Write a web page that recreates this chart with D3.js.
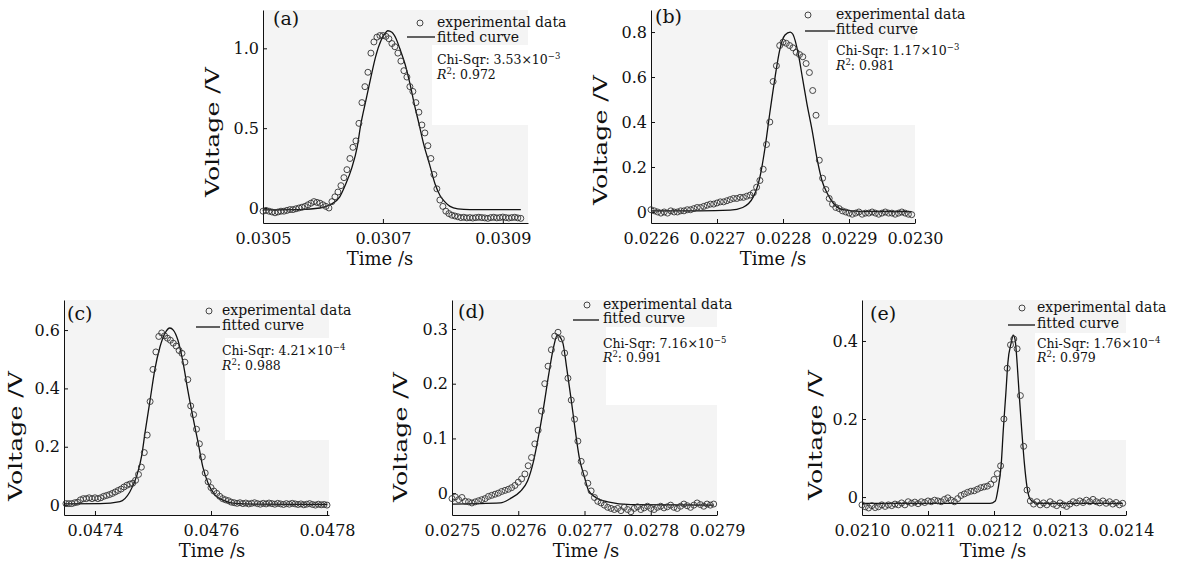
<!DOCTYPE html>
<html>
<head>
<meta charset="utf-8">
<script src="https://cdn.jsdelivr.net/npm/d3@7"></script>
<style>
  body { margin: 0; background: #fff; }
  svg text { font-family: "DejaVu Serif", serif; fill: #111; }
</style>
</head>
<body>
<div class="container"></div>
<script>
// ---- data ----
var panelNames = ["(a)", "(b)", "(c)", "(d)", "(e)"];
var chiMantissa = ["3.53", "1.17", "4.21", "7.16", "1.76"];
var chiExponent = ["\u22123", "\u22123", "\u22124", "\u22125", "\u22124"];
var rSquared = ["0.972", "0.981", "0.988", "0.991", "0.979"];

var xTicksA = [0.0305, 0.0307, 0.0309];
var yTicksA = [0, 0.5, 1.0];
var xTicksB = [0.0226, 0.0227, 0.0228, 0.0229, 0.0230];
var yTicksB = [0, 0.2, 0.4, 0.6, 0.8];
var xTicksC = [0.0474, 0.0476, 0.0478];
var yTicksC = [0, 0.2, 0.4, 0.6];
var xTicksD = [0.0275, 0.0276, 0.0277, 0.0278, 0.0279];
var yTicksD = [0, 0.1, 0.2, 0.3];
var xTicksE = [0.0210, 0.0211, 0.0212, 0.0213, 0.0214];
var yTicksE = [0, 0.2, 0.4];

var expA = [[0.030500,-0.02],[0.030505,-0.015],[0.030510,-0.02],[0.030515,-0.025],[0.030520,-0.03],[0.030525,-0.025],[0.030530,-0.02],[0.030535,-0.02],[0.030540,-0.015],[0.030545,-0.01],[0.030550,-0.01],[0.030555,-0.005],[0.030560,0.0],[0.030565,0.005],[0.030570,0.01],[0.030575,0.02],[0.030580,0.03],[0.030585,0.04],[0.030590,0.035],[0.030595,0.03],[0.030600,0.02],[0.030605,0.01],[0.030610,0.0],[0.030615,0.04],[0.030620,0.07],[0.030625,0.10],[0.030630,0.14],[0.030635,0.19],[0.030640,0.24],[0.030645,0.31],[0.030650,0.38],[0.030655,0.42],[0.030660,0.53],[0.030665,0.66],[0.030670,0.76],[0.030675,0.85],[0.030680,0.97],[0.030685,1.04],[0.030690,1.07],[0.030695,1.08],[0.030700,1.08],[0.030705,1.075],[0.030710,1.06],[0.030715,1.03],[0.030720,1.01],[0.030725,0.97],[0.030730,0.92],[0.030735,0.86],[0.030740,0.82],[0.030745,0.76],[0.030750,0.73],[0.030755,0.66],[0.030760,0.60],[0.030765,0.52],[0.030770,0.47],[0.030775,0.39],[0.030780,0.31],[0.030785,0.21],[0.030790,0.12],[0.030795,0.05],[0.030800,0.01],[0.030805,-0.02],[0.030810,-0.035],[0.030815,-0.045],[0.030820,-0.05],[0.030825,-0.055],[0.030830,-0.06],[0.030835,-0.058],[0.030840,-0.062],[0.030845,-0.06],[0.030850,-0.063],[0.030855,-0.06],[0.030860,-0.058],[0.030865,-0.06],[0.030870,-0.062],[0.030875,-0.065],[0.030880,-0.06],[0.030885,-0.058],[0.030890,-0.062],[0.030895,-0.06],[0.030900,-0.057],[0.030905,-0.06],[0.030910,-0.063],[0.030915,-0.06],[0.030920,-0.058],[0.030925,-0.062],[0.030930,-0.065]];
var fitA = [[0.030500,-0.012],[0.030562,-0.01],[0.030595,0.0],[0.030612,0.02],[0.030628,0.07],[0.030638,0.15],[0.030648,0.25],[0.030657,0.38],[0.030663,0.52],[0.030672,0.68],[0.030680,0.82],[0.030688,0.95],[0.030697,1.05],[0.030703,1.09],[0.030708,1.11],[0.030715,1.10],[0.030722,1.06],[0.030728,1.00],[0.030737,0.90],[0.030745,0.78],[0.030753,0.64],[0.030760,0.53],[0.030768,0.40],[0.030778,0.27],[0.030787,0.15],[0.030795,0.08],[0.030803,0.04],[0.030812,0.01],[0.030825,-0.005],[0.030845,-0.01],[0.030930,-0.01]];

var expB = [[0.022600,0.01],[0.022605,0.005],[0.022610,0.0],[0.022615,-0.005],[0.022620,0.0],[0.022625,-0.005],[0.022630,0.005],[0.022635,0.0],[0.022640,0.0],[0.022645,0.005],[0.022650,0.005],[0.022655,0.01],[0.022660,0.01],[0.022665,0.015],[0.022670,0.02],[0.022675,0.02],[0.022680,0.025],[0.022685,0.03],[0.022690,0.035],[0.022695,0.035],[0.022700,0.04],[0.022705,0.045],[0.022710,0.045],[0.022715,0.05],[0.022720,0.055],[0.022725,0.06],[0.022730,0.06],[0.022735,0.065],[0.022740,0.065],[0.022745,0.07],[0.022750,0.075],[0.022755,0.085],[0.022760,0.11],[0.022765,0.14],[0.022770,0.19],[0.022775,0.30],[0.022780,0.40],[0.022785,0.58],[0.022790,0.65],[0.022795,0.74],[0.022800,0.755],[0.022805,0.75],[0.022810,0.74],[0.022815,0.73],[0.022820,0.71],[0.022825,0.70],[0.022830,0.69],[0.022835,0.66],[0.022840,0.62],[0.022845,0.54],[0.022850,0.43],[0.022855,0.23],[0.022860,0.15],[0.022865,0.10],[0.022870,0.06],[0.022875,0.035],[0.022880,0.02],[0.022885,0.015],[0.022890,0.005],[0.022895,0.0],[0.022900,-0.005],[0.022905,-0.01],[0.022910,-0.005],[0.022915,0.0],[0.022920,-0.01],[0.022925,-0.005],[0.022930,-0.005],[0.022935,0.0],[0.022940,-0.005],[0.022945,-0.01],[0.022950,-0.005],[0.022955,0.0],[0.022960,-0.005],[0.022965,-0.005],[0.022970,-0.01],[0.022975,-0.005],[0.022980,0.0],[0.022985,-0.005],[0.022990,-0.01],[0.022995,-0.012]];
var fitB = [[0.022600,0.005],[0.022674,0.005],[0.022720,0.008],[0.022739,0.02],[0.022755,0.067],[0.022765,0.155],[0.022773,0.29],[0.022780,0.44],[0.022788,0.60],[0.022795,0.72],[0.022803,0.787],[0.022811,0.80],[0.022815,0.79],[0.022823,0.705],[0.022830,0.587],[0.022836,0.485],[0.022844,0.365],[0.022852,0.23],[0.022859,0.14],[0.022867,0.083],[0.022876,0.04],[0.022891,0.01],[0.022917,0.003],[0.022995,0.002]];

var expC = [[0.047350,0.005],[0.047355,0.005],[0.047360,0.005],[0.047365,0.008],[0.047370,0.01],[0.047375,0.018],[0.047380,0.022],[0.047385,0.022],[0.047390,0.025],[0.047395,0.022],[0.047400,0.025],[0.047405,0.022],[0.047410,0.025],[0.047415,0.03],[0.047420,0.033],[0.047425,0.036],[0.047430,0.04],[0.047435,0.045],[0.047440,0.05],[0.047445,0.055],[0.047450,0.062],[0.047455,0.068],[0.047460,0.072],[0.047465,0.075],[0.047470,0.085],[0.047475,0.105],[0.047480,0.13],[0.047485,0.18],[0.047490,0.24],[0.047495,0.355],[0.047500,0.465],[0.047505,0.525],[0.047510,0.578],[0.047515,0.59],[0.047520,0.58],[0.047525,0.572],[0.047530,0.565],[0.047535,0.555],[0.047540,0.545],[0.047545,0.53],[0.047550,0.52],[0.047555,0.49],[0.047560,0.43],[0.047565,0.34],[0.047570,0.31],[0.047575,0.26],[0.047580,0.21],[0.047585,0.165],[0.047590,0.11],[0.047595,0.08],[0.047600,0.06],[0.047605,0.048],[0.047610,0.04],[0.047615,0.03],[0.047620,0.022],[0.047625,0.018],[0.047630,0.015],[0.047635,0.01],[0.047640,0.008],[0.047645,0.006],[0.047650,0.008],[0.047655,0.005],[0.047660,0.007],[0.047665,0.004],[0.047670,0.006],[0.047675,0.008],[0.047680,0.005],[0.047685,0.003],[0.047690,0.006],[0.047695,0.004],[0.047700,0.007],[0.047705,0.005],[0.047710,0.003],[0.047715,0.006],[0.047720,0.004],[0.047725,0.002],[0.047730,0.005],[0.047735,0.003],[0.047740,0.006],[0.047745,0.004],[0.047750,0.002],[0.047755,0.004],[0.047760,0.001],[0.047765,0.003],[0.047770,0.005],[0.047775,0.002],[0.047780,0.0],[0.047785,0.003],[0.047790,0.001],[0.047795,0.002],[0.047800,0.0]];
var fitC = [[0.047347,0.004],[0.047409,0.005],[0.047443,0.012],[0.047460,0.045],[0.047472,0.10],[0.047481,0.175],[0.047486,0.245],[0.047495,0.36],[0.047503,0.463],[0.047512,0.542],[0.047521,0.59],[0.047529,0.607],[0.047535,0.60],[0.047543,0.565],[0.047552,0.487],[0.047560,0.394],[0.047569,0.30],[0.047578,0.212],[0.047586,0.13],[0.047595,0.075],[0.047607,0.034],[0.047621,0.017],[0.047638,0.007],[0.047685,0.003],[0.047800,0.002]];

var expD = [[0.027500,-0.01],[0.027505,-0.007],[0.027510,-0.012],[0.027515,-0.008],[0.027520,-0.015],[0.027525,-0.016],[0.027530,-0.018],[0.027535,-0.016],[0.027540,-0.014],[0.027545,-0.012],[0.027550,-0.01],[0.027555,-0.006],[0.027560,-0.004],[0.027565,-0.002],[0.027570,0.0],[0.027575,0.003],[0.027580,0.005],[0.027585,0.007],[0.027590,0.01],[0.027595,0.014],[0.027600,0.02],[0.027605,0.026],[0.027610,0.035],[0.027615,0.05],[0.027620,0.065],[0.027625,0.09],[0.027630,0.115],[0.027635,0.15],[0.027640,0.20],[0.027645,0.232],[0.027650,0.262],[0.027655,0.287],[0.027660,0.294],[0.027665,0.282],[0.027670,0.256],[0.027675,0.21],[0.027680,0.17],[0.027685,0.135],[0.027690,0.095],[0.027695,0.058],[0.027700,0.036],[0.027705,0.018],[0.027710,0.004],[0.027715,-0.008],[0.027720,-0.015],[0.027725,-0.018],[0.027730,-0.022],[0.027735,-0.026],[0.027740,-0.028],[0.027745,-0.03],[0.027750,-0.028],[0.027755,-0.032],[0.027760,-0.026],[0.027765,-0.03],[0.027770,-0.034],[0.027775,-0.028],[0.027780,-0.025],[0.027785,-0.03],[0.027790,-0.027],[0.027795,-0.024],[0.027800,-0.028],[0.027805,-0.03],[0.027810,-0.026],[0.027815,-0.024],[0.027820,-0.027],[0.027825,-0.025],[0.027830,-0.022],[0.027835,-0.026],[0.027840,-0.028],[0.027845,-0.024],[0.027850,-0.02],[0.027855,-0.023],[0.027860,-0.026],[0.027865,-0.022],[0.027870,-0.018],[0.027875,-0.021],[0.027880,-0.024],[0.027885,-0.02],[0.027890,-0.022],[0.027895,-0.02]];
var fitD = [[0.027500,-0.02],[0.027573,-0.018],[0.027588,-0.01],[0.027603,0.003],[0.027614,0.022],[0.027623,0.058],[0.027630,0.10],[0.027638,0.155],[0.027646,0.217],[0.027653,0.265],[0.027659,0.289],[0.027667,0.276],[0.027673,0.23],[0.027680,0.17],[0.027686,0.115],[0.027692,0.066],[0.027700,0.029],[0.027706,0.005],[0.027717,-0.008],[0.027735,-0.016],[0.027770,-0.021],[0.027895,-0.022]];

var expE = [[0.021000,-0.02],[0.021005,-0.025],[0.021010,-0.028],[0.021015,-0.022],[0.021020,-0.027],[0.021025,-0.025],[0.021030,-0.02],[0.021035,-0.024],[0.021040,-0.02],[0.021045,-0.022],[0.021050,-0.018],[0.021055,-0.02],[0.021060,-0.015],[0.021065,-0.02],[0.021070,-0.012],[0.021075,-0.016],[0.021080,-0.013],[0.021085,-0.017],[0.021090,-0.012],[0.021095,-0.014],[0.021100,-0.01],[0.021105,-0.012],[0.021110,-0.008],[0.021115,-0.01],[0.021120,-0.012],[0.021125,-0.006],[0.021130,-0.002],[0.021135,-0.008],[0.021140,-0.012],[0.021145,-0.004],[0.021150,0.004],[0.021155,0.008],[0.021160,0.012],[0.021165,0.015],[0.021170,0.016],[0.021175,0.02],[0.021180,0.024],[0.021185,0.026],[0.021190,0.028],[0.021195,0.033],[0.021200,0.045],[0.021205,0.06],[0.021210,0.08],[0.021215,0.20],[0.021220,0.33],[0.021225,0.39],[0.021230,0.405],[0.021235,0.38],[0.021240,0.26],[0.021245,0.13],[0.021250,0.018],[0.021255,-0.01],[0.021260,-0.018],[0.021265,-0.012],[0.021270,-0.02],[0.021275,-0.015],[0.021280,-0.02],[0.021285,-0.012],[0.021290,-0.018],[0.021295,-0.022],[0.021300,-0.015],[0.021305,-0.02],[0.021310,-0.024],[0.021315,-0.018],[0.021320,-0.012],[0.021325,-0.015],[0.021330,-0.01],[0.021335,-0.014],[0.021340,-0.008],[0.021345,-0.012],[0.021350,-0.006],[0.021355,-0.012],[0.021360,-0.015],[0.021365,-0.01],[0.021370,-0.016],[0.021375,-0.012],[0.021380,-0.018],[0.021385,-0.014],[0.021390,-0.02],[0.021395,-0.016]];
var fitE = [[0.021000,-0.016],[0.021194,-0.016],[0.021202,-0.01],[0.021206,0.02],[0.021211,0.085],[0.021214,0.17],[0.021218,0.267],[0.021221,0.344],[0.021226,0.395],[0.021229,0.415],[0.021232,0.403],[0.021235,0.344],[0.021238,0.267],[0.021242,0.172],[0.021246,0.087],[0.021250,0.026],[0.021255,-0.006],[0.021265,-0.016],[0.021395,-0.016]];

var expSets = [expA, expB, expC, expD, expE];
var fitSets = [fitA, fitB, fitC, fitD, fitE];
var xTickSets = [xTicksA, xTicksB, xTicksC, xTicksD, xTicksE];
var yTickSets = [yTicksA, yTicksB, yTicksC, yTicksD, yTicksE];

// ---- layout (pixel positions and axis extents) ----
var layout = [
  { box: [263, 10, 528, 223], xd: [0.0305, 0.030942], yd: [-0.094, 1.24], label: [273, 25], xTitle: [380, 265], yTitle: [219, 132],
    mark: 420, line: [407, 435], tx: 437, rows: [27, 42, 37, 64, 79], white: [432, 45, 98, 80] },
  { box: [651, 10, 915, 223], xd: [0.0226, 0.0230], yd: [-0.049, 0.898], label: [655, 23], xTitle: [773, 265], yTitle: [607, 140],
    mark: 808, line: [805, 835], tx: 836, rows: [19, 34, 31, 55, 70], white: [828, 40, 122, 85] },
  { box: [64, 300, 329, 515], xd: [0.0473466, 0.0478034], yd: [-0.034, 0.703], label: [67, 320], xTitle: [212, 557], yTitle: [22, 436],
    mark: 209, line: [196, 220], tx: 222, rows: [315, 330, 327, 355, 370], white: [225, 338, 108, 102] },
  { box: [452, 300, 717, 515], xd: [0.0275, 0.0279], yd: [-0.040, 0.353], label: [458, 318], xTitle: [586, 557], yTitle: [407, 437],
    mark: 587, line: [573, 599], tx: 603, rows: [309, 323, 320, 348, 362], white: [606, 327, 137, 78] },
  { box: [862, 300, 1126, 515], xd: [0.0210, 0.0214], yd: [-0.046, 0.505], label: [870, 320], xTitle: [993, 557], yTitle: [822, 435],
    mark: 1022, line: [1008, 1035], tx: 1037, rows: [312, 328, 325, 348, 362], white: [1035, 333, 147, 107] }
];

var svg = d3.select(".container").append("svg")
    .attr("width", 1182)
    .attr("height", 565);

var yFormat = function (d) { return d === 0 ? "0" : d3.format(".1f")(d); };

layout.forEach(function (L, i) {
    var left = L.box[0], top = L.box[1], right = L.box[2], bottom = L.box[3];
    var x = d3.scaleLinear().domain(L.xd).range([left, right]);
    var y = d3.scaleLinear().domain(L.yd).range([bottom, top]);
    var g = svg.append("g");

    g.append("rect")
        .attr("x", left).attr("y", top)
        .attr("width", right - left).attr("height", bottom - top)
        .attr("fill", "#f4f4f4");
    g.append("rect")
        .attr("x", L.white[0]).attr("y", L.white[1])
        .attr("width", L.white[2]).attr("height", L.white[3])
        .attr("fill", "#fff");

    var xAxis = g.append("g")
        .attr("transform", "translate(0," + bottom + ")")
        .call(d3.axisBottom(x).tickValues(xTickSets[i]).tickSizeInner(-4).tickSizeOuter(0)
            .tickPadding(10).tickFormat(d3.format(".4f")));
    var yAxis = g.append("g")
        .attr("transform", "translate(" + left + ",0)")
        .call(d3.axisLeft(y).tickValues(yTickSets[i]).tickSizeInner(-4).tickSizeOuter(0)
            .tickPadding(4).tickFormat(yFormat));
    [xAxis, yAxis].forEach(function (ax) {
        ax.attr("font-family", "DejaVu Serif").attr("font-size", 16);
        ax.selectAll("path, line").attr("stroke", "#111").attr("stroke-width", 1);
    });

    // fitted curve
    g.append("path")
        .datum(fitSets[i])
        .attr("fill", "none")
        .attr("stroke", "#111")
        .attr("stroke-width", 1.3)
        .attr("d", d3.line()
            .x(function (d) { return x(d[0]); })
            .y(function (d) { return y(d[1]); })
            .curve(d3.curveMonotoneX));

    // experimental points
    g.selectAll("circle.pt")
        .data(expSets[i])
        .enter().append("circle")
        .attr("class", "pt")
        .attr("cx", function (d) { return x(d[0]); })
        .attr("cy", function (d) { return y(d[1]); })
        .attr("r", 3)
        .attr("fill", "none")
        .attr("stroke", "#333")
        .attr("stroke-width", 0.9);

    // titles
    g.append("text")
        .attr("x", L.xTitle[0]).attr("y", L.xTitle[1])
        .attr("text-anchor", "middle")
        .attr("font-size", 18)
        .text("Time /s");
    g.append("text")
        .attr("transform", "translate(" + L.yTitle[0] + "," + L.yTitle[1] + ") rotate(-90)")
        .attr("text-anchor", "middle")
        .attr("font-size", 18)
        .attr("textLength", 130)
        .attr("lengthAdjust", "spacingAndGlyphs")
        .text("Voltage /V");
    g.append("text")
        .attr("x", L.label[0]).attr("y", L.label[1])
        .attr("font-size", 19)
        .text(panelNames[i]);

    // legend
    g.append("circle")
        .attr("cx", L.mark).attr("cy", L.rows[0] - 4).attr("r", 3)
        .attr("fill", "none").attr("stroke", "#333").attr("stroke-width", 0.9);
    g.append("text")
        .attr("x", L.tx).attr("y", L.rows[0])
        .attr("font-size", 14)
        .text("experimental data");
    g.append("line")
        .attr("x1", L.line[0]).attr("x2", L.line[1])
        .attr("y1", L.rows[2]).attr("y2", L.rows[2])
        .attr("stroke", "#111").attr("stroke-width", 1.3);
    g.append("text")
        .attr("x", L.tx).attr("y", L.rows[1])
        .attr("font-size", 14)
        .text("fitted curve");

    var chi = g.append("text")
        .attr("x", L.tx).attr("y", L.rows[3])
        .attr("font-size", 12.5);
    chi.append("tspan").text("Chi-Sqr: " + chiMantissa[i] + "\u00d710");
    chi.append("tspan").attr("dy", -5).attr("font-size", 8.5).text(chiExponent[i]);

    var r2 = g.append("text")
        .attr("x", L.tx).attr("y", L.rows[4])
        .attr("font-size", 12.5);
    r2.append("tspan").attr("font-style", "italic").text("R");
    r2.append("tspan").attr("dy", -5).attr("font-size", 8.5).text("2");
    r2.append("tspan").attr("dy", 5).text(": " + rSquared[i]);
});
</script>
</body>
</html>
